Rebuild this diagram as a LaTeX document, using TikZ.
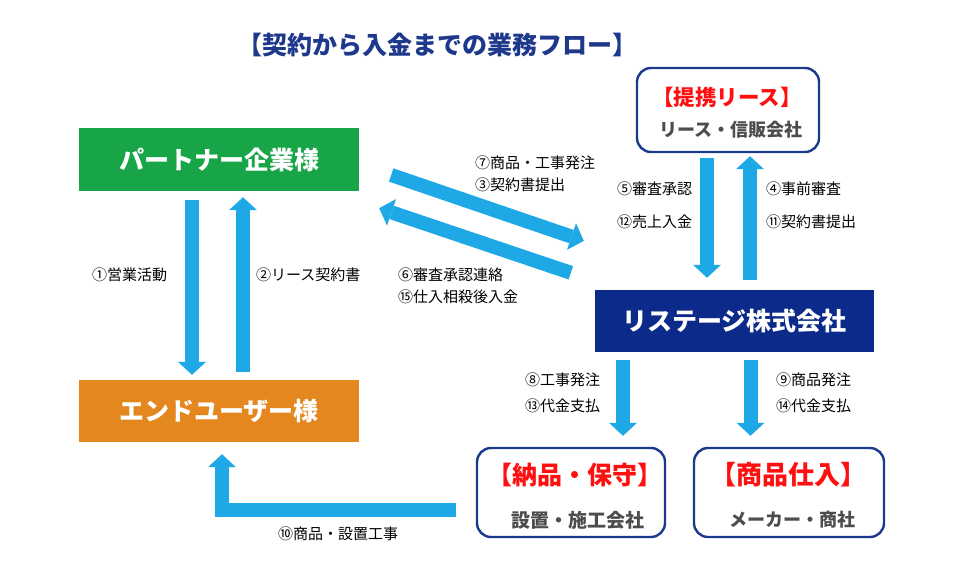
\documentclass[tikz,border=0pt]{standalone}
\usepackage{fontspec}
\setmainfont{Noto Sans CJK JP}
\usetikzlibrary{arrows.meta,calc}
\definecolor{arrowc}{RGB}{30,168,230}
\definecolor{greenc}{RGB}{24,165,72}
\definecolor{orangec}{RGB}{228,135,30}
\definecolor{navyc}{RGB}{12,42,138}
\definecolor{borderc}{RGB}{26,58,140}
\definecolor{titlec}{RGB}{30,56,140}
\definecolor{redc}{RGB}{255,16,16}
\definecolor{grayc}{RGB}{77,77,77}
\tikzset{
  fillbox/.style={rectangle, inner sep=0pt, text=white, font=\fontsize{25}{28}\selectfont\bfseries},
  roundbox/.style={rectangle, rounded corners=14pt, draw=borderc, line width=2.4pt, inner sep=0pt},
  redtext/.style={text=redc, inner sep=0pt, font=\bfseries},
  graytext/.style={text=grayc, inner sep=0pt, font=\bfseries},
  lbl/.style={anchor=west, inner sep=0pt, font=\fontsize{15}{17}\selectfont},
  blockarrow/.style={draw=arrowc, line width=14pt, line join=miter,
     -{Triangle[width=28pt,length=13pt,line width=0pt]}, fill=none}
}
\begin{document}
\begin{tikzpicture}[x=1pt,y=-1pt]
\useasboundingbox (0,0) rectangle (960,574);
\fill[white] (0,0) rectangle (960,574);

% title
\node[inner sep=0pt, text=titlec, font=\fontsize{25}{28}\selectfont\bfseries] (title) at (437.5,45) {【契約から入金までの業務フロー】};

% filled boxes
\node[fillbox, fill=greenc, minimum width=280pt, minimum height=63pt] (partner) at (219,159.5) {パートナー企業様};
\node[fillbox, fill=orangec, minimum width=280pt, minimum height=62pt] (enduser) at (219,411) {エンドユーザー様};
\node[fillbox, fill=navyc, minimum width=279pt, minimum height=62pt] (listage) at (734.5,321) {リステージ株式会社};

% rounded boxes
\node[roundbox, minimum width=182pt, minimum height=84pt] (lease) at (728,110) {};
\node[redtext, font=\fontsize{21.5}{24}\selectfont\bfseries] (leaseA) at (727,97) {【提携リース】};
\node[graytext, font=\fontsize{18}{22}\selectfont\bfseries] (leaseB) at (731,130) {リース・信販会社};

\node[roundbox, minimum width=188pt, minimum height=89pt] (delivery) at (571,492.5) {};
\node[redtext, font=\fontsize{25}{28}\selectfont\bfseries] (deliveryA) at (574.5,475) {【納品・保守】};
\node[graytext, font=\fontsize{19}{22}\selectfont\bfseries] (deliveryB) at (578,520) {設置・施工会社};

\node[roundbox, minimum width=190pt, minimum height=89pt] (products) at (789,492.5) {};
\node[redtext, font=\fontsize{26}{29}\selectfont\bfseries] (productsA) at (788,475) {【商品仕入】};
\node[graytext, font=\fontsize{18}{22}\selectfont\bfseries] (productsB) at (792.5,520) {メーカー・商社};

% arrows partner <-> end user
\draw[blockarrow] ($(partner.south)+(-27,9)$) -- ($(enduser.north)+(-27,-5)$);
\draw[blockarrow] ($(enduser.north)+(24,-8)$) -- ($(partner.south)+(24,6)$);

% diagonal arrows partner <-> listage
\draw[blockarrow] ($(partner.east)+(32,15.5)$) -- ($(listage.north west)+(-11,-49)$);
\draw[blockarrow] ($(listage.north west)+(-24,-17)$) -- ($(partner.south east)+(20,17)$);

% lease <-> listage
\draw[blockarrow] ($(lease.south)+(-21,5)$) -- ($(listage.north)+(-27.5,-12)$);
\draw[blockarrow] ($(listage.north)+(15.5,-10)$) -- ($(lease.south)+(22,3)$);

% listage -> delivery / products
\draw[blockarrow] ($(listage.south)+(-111.5,8)$) -- ($(delivery.north)+(52,-11)$);
\draw[blockarrow] ($(listage.south)+(16,8)$) -- ($(products.north)+(-38.5,-11)$);

% delivery -> end user (L shape)
\coordinate (lstart) at ($(delivery.west)+(-20,17)$);
\coordinate (lend) at ($(enduser.south)+(3,12)$);
\draw[blockarrow] (lstart) -| (lend);

% labels
\node[lbl] (l1) at (92,275) {①営業活動};
\node[lbl] (l2) at (256,275) {②リース契約書};
\node[lbl] (l7) at (475,163) {⑦商品・工事発注};
\node[lbl] (l3) at (475,185) {③契約書提出};
\node[lbl] (l6) at (398,275) {⑥審査承認連絡};
\node[lbl] (l15) at (398,297) {⑮仕入相殺後入金};
\node[lbl] (l5) at (617,189) {⑤審査承認};
\node[lbl] (l12) at (617,222) {⑫売上入金};
\node[lbl] (l4) at (766,189) {④事前審査};
\node[lbl] (l11) at (766,222) {⑪契約書提出};
\node[lbl] (l8) at (525,380) {⑧工事発注};
\node[lbl] (l13) at (525,406) {⑬代金支払};
\node[lbl] (l9) at (776,380) {⑨商品発注};
\node[lbl] (l14) at (776,406) {⑭代金支払};
\node[lbl] (l10) at (278,534) {⑩商品・設置工事};
\end{tikzpicture}
\end{document}
